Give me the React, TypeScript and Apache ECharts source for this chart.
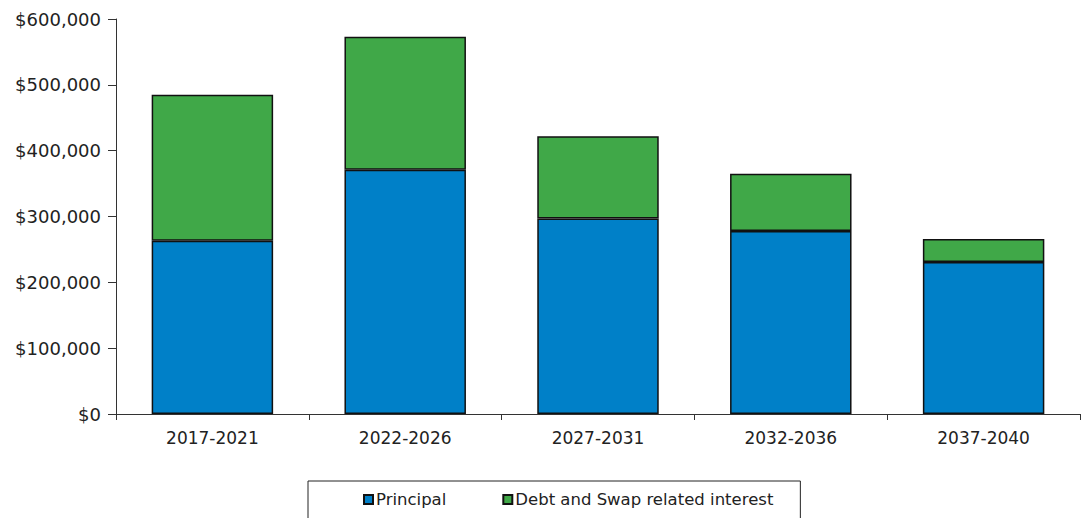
import React, { useEffect, useRef } from "react";
import * as echarts from "echarts";

// Debt service schedule by five-year period
const periods = ["2017-2021", "2022-2026", "2027-2031", "2032-2036", "2037-2040"];
const principal = [263000, 371000, 297000, 278000, 231000];
const interest = [222000, 202000, 125000, 87000, 35000];
const seriesNames = ["Principal", "Debt and Swap related interest"];

const FONT = "DejaVu Sans";

export default function App() {
  const ref = useRef<HTMLDivElement>(null);

  useEffect(() => {
    if (!ref.current) return;
    const chart = echarts.init(ref.current, null, { renderer: "svg" });
    const fmt = (v: number) => "$" + v.toLocaleString("en-US");
    chart.setOption({
      animation: false,
      backgroundColor: "#ffffff",
      grid: { left: 116, right: 6, top: 19, bottom: 104, containLabel: false },
      legend: {
        left: 308,
        top: 481,
        orient: "horizontal",
        padding: [10, 27, 24, 55],
        itemGap: 56,
        itemWidth: 9,
        itemHeight: 9,
        icon: "rect",
        borderColor: "#222",
        borderWidth: 1,
        borderRadius: 0,
        textStyle: { fontFamily: FONT, fontSize: 16.5, color: "#222", padding: [0, 0, 0, -2] },
        data: seriesNames,
      },
      xAxis: {
        type: "category",
        data: periods,
        axisLine: { lineStyle: { color: "#333", width: 1 } },
        axisTick: { show: true, length: 6, alignWithLabel: false, lineStyle: { color: "#333" } },
        axisLabel: { fontFamily: FONT, fontSize: 17, color: "#222", margin: 15 },
      },
      yAxis: {
        type: "value",
        min: 0,
        max: 600000,
        interval: 100000,
        splitLine: { show: false },
        axisLine: { show: true, lineStyle: { color: "#333", width: 1 } },
        axisTick: { show: true, length: 8, lineStyle: { color: "#333" } },
        axisLabel: { fontFamily: FONT, fontSize: 18, color: "#222", margin: 15, formatter: fmt },
      },
      series: [
        {
          name: seriesNames[0],
          type: "bar",
          stack: "total",
          data: principal,
          barCategoryGap: "37%",
          itemStyle: { color: "#0080C8", borderColor: "#111", borderWidth: 1.5 },
        },
        {
          name: seriesNames[1],
          type: "bar",
          stack: "total",
          data: interest,
          barCategoryGap: "37%",
          itemStyle: { color: "#40A848", borderColor: "#111", borderWidth: 1.5 },
        },
      ],
    });
    return () => chart.dispose();
  }, []);

  return (
    <div
      ref={ref}
      style={{ position: "fixed", left: 0, top: 0, width: 1086, height: 518 }}
    />
  );
}
